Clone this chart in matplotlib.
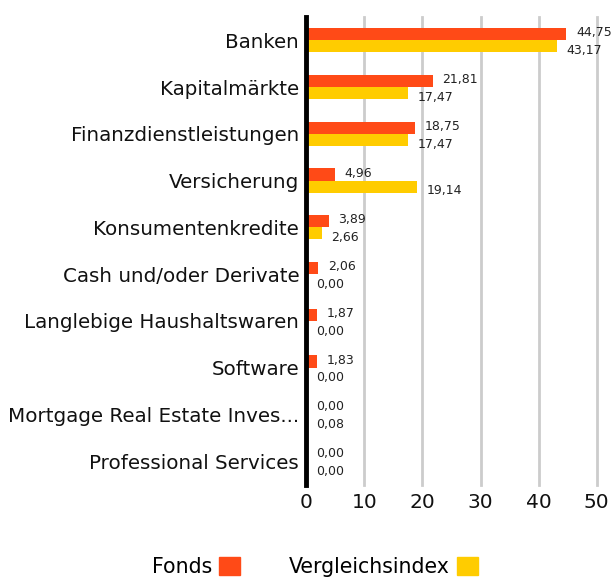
import matplotlib
matplotlib.use("Agg")
import matplotlib.pyplot as plt
import numpy as np
from matplotlib.patches import Patch

# Daten
KATEGORIEN = ['Banken', 'Kapitalmärkte', 'Finanzdienstleistungen', 'Versicherung',
              'Konsumentenkredite', 'Cash und/oder Derivate', 'Langlebige Haushaltswaren',
              'Software', 'Mortgage Real Estate Inves...', 'Professional Services']
FONDS = [44.75, 21.81, 18.75, 4.96, 3.89, 2.06, 1.87, 1.83, 0.00, 0.00]
INDEX = [43.17, 17.47, 17.47, 19.14, 2.66, 0.00, 0.00, 0.00, 0.08, 0.00]
XTICKS = [0, 10, 20, 30, 40, 50]

FARBE_FONDS = '#FF4A17'
FARBE_INDEX = '#FFCC00'

plt.rcParams['font.family'] = ['DejaVu Sans']

fig = plt.figure(figsize=(6.14, 5.81), dpi=100)
ax = fig.add_axes([0.4985, 0.166, 0.4735, 0.805])

y = np.arange(len(KATEGORIEN))
h = 0.26
ax.barh(y - h / 2, FONDS, height=h, color=FARBE_FONDS, zorder=3)
ax.barh(y + h / 2, INDEX, height=h, color=FARBE_INDEX, zorder=3)

def fmt(v):
    return f'{v:.2f}'.replace('.', ',')

# Wertbeschriftungen rechts neben den Balken
for i in range(len(KATEGORIEN)):
    ax.annotate(fmt(FONDS[i]), (FONDS[i], y[i] - h / 2), xytext=(7, 1),
                textcoords='offset points', va='center', ha='left',
                fontsize=9, color='#222222')
    ax.annotate(fmt(INDEX[i]), (INDEX[i], y[i] + h / 2), xytext=(7, -3),
                textcoords='offset points', va='center', ha='left',
                fontsize=9, color='#222222')

ax.set_ylim(len(KATEGORIEN) - 0.5, -0.5)
ax.set_xlim(0, 50)
ax.set_yticks(y)
ax.set_yticklabels(KATEGORIEN, fontsize=14.3, color='#111111')
ax.set_xticks(XTICKS)
ax.set_xticklabels([str(t) for t in XTICKS], fontsize=14.5, color='#111111')
ax.tick_params(axis='both', length=0)
ax.tick_params(axis='y', pad=5)
ax.tick_params(axis='x', pad=6)

for s in ['top', 'right', 'bottom']:
    ax.spines[s].set_visible(False)
ax.spines['left'].set_linewidth(3.5)
ax.spines['left'].set_color('black')
ax.spines['left'].set_zorder(5)

ax.grid(axis='x', color='#cccccc', linewidth=2, zorder=0)
ax.set_axisbelow(True)
for gl in ax.get_xgridlines():
    gl.set_clip_on(False)

handles = [Patch(color=FARBE_FONDS), Patch(color=FARBE_INDEX)]
fig.legend(handles, ['Fonds', 'Vergleichsindex'], loc='center',
           bbox_to_anchor=(0.513, 0.024), ncol=2, frameon=False,
           markerfirst=False, fontsize=14.8, handlelength=1.0, handleheight=1.0,
           handletextpad=0.35, columnspacing=2.4)

fig.savefig('out.png', dpi=100)
